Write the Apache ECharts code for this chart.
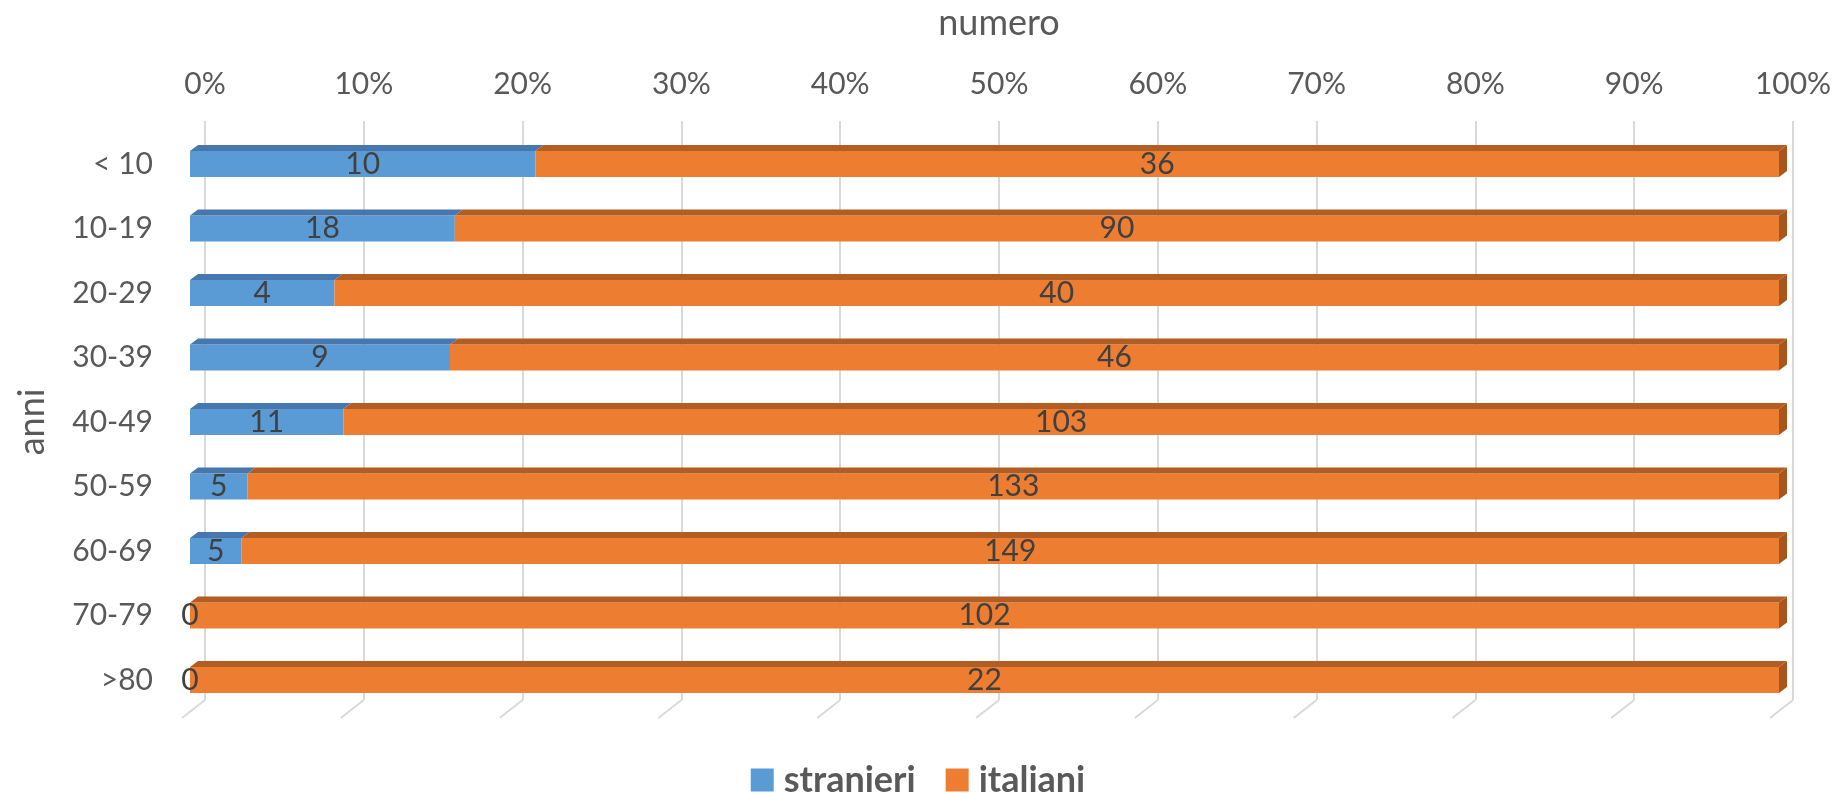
<!DOCTYPE html>
<html>
<head>
<meta charset="utf-8">
<script src="https://cdn.jsdelivr.net/npm/echarts@6/dist/echarts.min.js"></script>
<style>
html,body{margin:0;padding:0;background:#fff;}
#chart{width:1836px;height:793px;}
</style>
</head>
<body>
<div id="chart"></div>
<script>
// ---- data ----
var categories = ['< 10', '10-19', '20-29', '30-39', '40-49', '50-59', '60-69', '70-79', '>80'];
var stranieri = [10, 18, 4, 9, 11, 5, 5, 0, 0];
var italiani = [36, 90, 40, 46, 103, 133, 149, 102, 22];
var tickValues = [0, 10, 20, 30, 40, 50, 60, 70, 80, 90, 100];
var seriesNames = ['stranieri', 'italiani'];

// ---- derived (percent shares) ----
var totals = stranieri.map(function (v, i) { return v + italiani[i]; });
var pctS = stranieri.map(function (v, i) { return v / totals[i] * 100; });
var pctI = italiani.map(function (v, i) { return v / totals[i] * 100; });

var FONT = 'Lato, "Open Sans", sans-serif';
var BAR_W = 26, DX = 8, DY = 6;
var frontColors = ['#5B9BD5', '#ED7D31'];
var topColors = ['#4677AE', '#B35D22'];
var sideColor = '#A9561D';

// segment data for the 3D top / side faces: [start, catIndex, end, seriesIdx]
var faces = [];
categories.forEach(function (c, i) {
  faces.push([0, i, pctS[i], 0]);
  faces.push([pctS[i], i, pctS[i] + pctI[i], 1]);
});

var chart = echarts.init(document.getElementById('chart'));
chart.setOption({
  animation: false,
  backgroundColor: '#fff',
  textStyle: { fontFamily: FONT },
  legend: {
    data: seriesNames,
    top: 757,
    left: 'center',
    itemWidth: 23,
    itemHeight: 23,
    itemGap: 30,
    icon: 'rect',
    textStyle: { fontFamily: FONT, fontSize: 36, fontWeight: 'bold', color: '#595959', padding: [0, 0, 0, 5] }
  },
  grid: [
    { left: 190, right: 57, top: 131.75, bottom: 80.75 },
    { left: 205, right: 43, top: 118, bottom: 93 }
  ],
  xAxis: [
    { type: 'value', gridIndex: 0, min: 0, max: 100, interval: 10, show: false },
    {
      type: 'value', gridIndex: 1, position: 'top', min: 0, max: 100, interval: 10,
      name: 'numero', nameLocation: 'middle', nameGap: 80,
      nameTextStyle: { fontFamily: FONT, fontSize: 36, color: '#595959' },
      axisLine: { show: false }, axisTick: { show: false },
      axisLabel: { formatter: '{value}%', fontFamily: FONT, fontSize: 30, color: '#595959', margin: 22 },
      splitLine: { show: true, lineStyle: { color: '#D9D9D9', width: 2 } }
    }
  ],
  yAxis: [
    {
      type: 'category', gridIndex: 0, data: categories, inverse: true,
      name: 'anni', nameLocation: 'middle', nameGap: 140, nameRotate: 90,
      nameTextStyle: { fontFamily: FONT, fontSize: 36, color: '#595959' },
      axisLine: { show: false }, axisTick: { show: false },
      axisLabel: { fontFamily: FONT, fontSize: 30, color: '#595959', margin: 37, padding: [14, 0, 0, 0] },
      splitLine: { show: false }
    },
    { type: 'value', gridIndex: 1, min: 0, max: 1, show: false }
  ],
  series: [
    {
      type: 'custom', name: 'floor', xAxisIndex: 1, yAxisIndex: 1, silent: true, z: 0,
      data: tickValues.map(function (t) { return [t, 0]; }),
      renderItem: function (params, api) {
        var p = api.coord([api.value(0), 0]);
        return { type: 'line', shape: { x1: p[0], y1: p[1], x2: p[0] - 23, y2: p[1] + 18 },
                 style: { stroke: '#D9D9D9', lineWidth: 2 } };
      }
    },
    {
      type: 'bar', name: seriesNames[0], stack: 'tot', xAxisIndex: 0, yAxisIndex: 0,
      barWidth: BAR_W, data: pctS, itemStyle: { color: frontColors[0] },
      label: { show: true, position: 'inside', fontFamily: FONT, fontSize: 30, color: '#404040',
               formatter: function (p) { return String(stranieri[p.dataIndex]); } }
    },
    {
      type: 'bar', name: seriesNames[1], stack: 'tot', xAxisIndex: 0, yAxisIndex: 0,
      barWidth: BAR_W, data: pctI, itemStyle: { color: frontColors[1] },
      label: { show: true, position: 'inside', fontFamily: FONT, fontSize: 30, color: '#404040',
               formatter: function (p) { return String(italiani[p.dataIndex]); } }
    },
    {
      type: 'custom', name: 'faces', xAxisIndex: 0, yAxisIndex: 0, silent: true, z: 3,
      data: faces,
      renderItem: function (params, api) {
        var s = api.value(3);
        var a = api.coord([api.value(0), api.value(1)]);
        var b = api.coord([api.value(2), api.value(1)]);
        var yTop = a[1] - BAR_W / 2, yBot = a[1] + BAR_W / 2;
        var children = [];
        if (b[0] - a[0] > 0.01) {
          children.push({ type: 'polygon', shape: { points: [[a[0], yTop], [b[0], yTop], [b[0] + DX, yTop - DY], [a[0] + DX, yTop - DY]] },
                          style: { fill: topColors[s] } });
        }
        if (s === 1) {
          children.push({ type: 'polygon', shape: { points: [[b[0], yTop], [b[0] + DX, yTop - DY], [b[0] + DX, yBot - DY], [b[0], yBot]] },
                          style: { fill: sideColor } });
        }
        return { type: 'group', children: children };
      }
    }
  ]
});
</script>
</body>
</html>
